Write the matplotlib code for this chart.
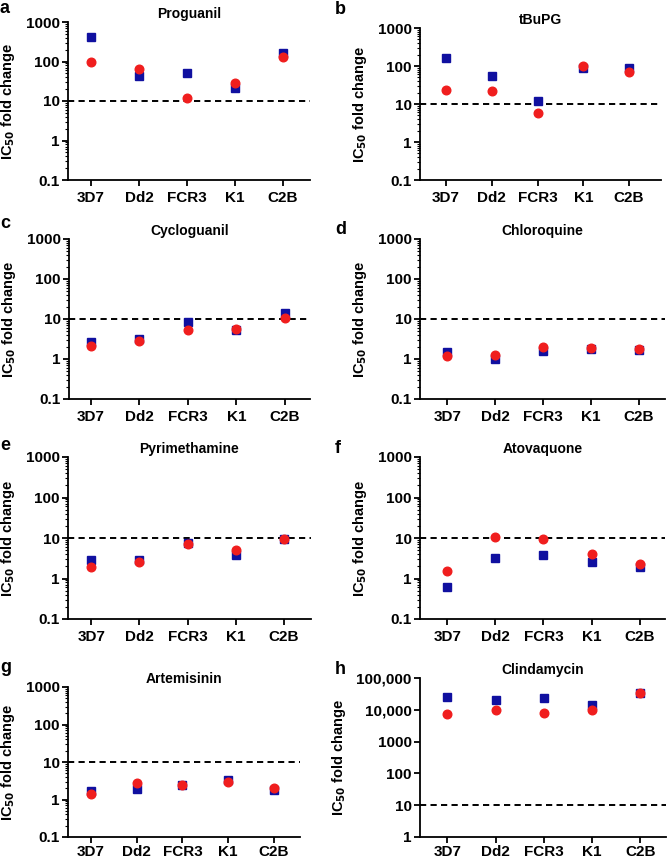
import matplotlib
matplotlib.use("Agg")
import matplotlib.pyplot as plt
from matplotlib.ticker import LogLocator, FixedLocator, FixedFormatter, NullFormatter

plt.rcParams['font.family'] = ['Liberation Sans', 'DejaVu Sans']
plt.rcParams['font.weight'] = 'bold'

strains = ["3D7", "Dd2", "FCR3", "K1", "C2B"]

letters = ["a", "b", "c", "d", "e", "f", "g", "h"]
drugs = ["Proguanil", "tBuPG", "Cycloguanil", "Chloroquine",
         "Pyrimethamine", "Atovaquone", "Artemisinin", "Clindamycin"]

# blue squares
sq_proguanil = [420, 43, 50, 21, 160]
sq_tbupg = [166, 56, 12, 87, 87]
sq_cycloguanil = [2.7, 3.2, 8.3, 5.3, 14]
sq_chloroquine = [1.52, 1.0, 1.6, 1.78, 1.72]
sq_pyrimethamine = [2.9, 2.8, 7.7, 3.7, 9.3]
sq_atovaquone = [0.62, 3.2, 3.8, 2.5, 1.9]
sq_artemisinin = [1.69, 1.95, 2.38, 3.3, 1.8]
sq_clindamycin = [24500, 20200, 23400, 13800, 32600]

# red circles
ci_proguanil = [96, 63, 12, 28, 133]
ci_tbupg = [23.5, 22.6, 5.7, 103, 71]
ci_cycloguanil = [2.15, 2.8, 5.2, 5.7, 10.6]
ci_chloroquine = [1.21, 1.23, 2.0, 1.92, 1.8]
ci_pyrimethamine = [1.94, 2.5, 7.0, 5.1, 9.3]
ci_atovaquone = [1.57, 10.7, 9.35, 4.06, 2.3]
ci_artemisinin = [1.44, 2.8, 2.38, 2.92, 2.07]
ci_clindamycin = [7450, 9900, 7800, 9900, 32600]

squares = [sq_proguanil, sq_tbupg, sq_cycloguanil, sq_chloroquine,
           sq_pyrimethamine, sq_atovaquone, sq_artemisinin, sq_clindamycin]
circles = [ci_proguanil, ci_tbupg, ci_cycloguanil, ci_chloroquine,
           ci_pyrimethamine, ci_atovaquone, ci_artemisinin, ci_clindamycin]

yticks_std = [0.1, 1, 10, 100, 1000]
ylabels_std = ["0.1", "1", "10", "100", "1000"]
yticks_h = [1, 10, 100, 1000, 10000, 100000]
ylabels_h = ["1", "10", "100", "1000", "10,000", "100,000"]
threshold = 10

W, H = 667, 861
# (left, right, top, bottom) in pixels
boxes = [(68, 310, 22, 180), (420, 661, 28, 180),
         (69, 310, 239, 399), (420, 665, 239, 399),
         (68, 311, 457, 619), (420, 665, 457, 619),
         (68, 300, 687, 837), (420, 666, 678, 837)]
xlims = [(-0.48, 4.56), (-0.57, 4.7), (-0.45, 4.52), (-0.57, 4.54),
         (-0.48, 4.56), (-0.57, 4.53), (-0.5, 4.57), (-0.57, 4.53)]
letter_pos = [(0, 0), (335, 1), (0, 215), (335, 221),
              (0, 437), (335, 440), (0, 659), (335, 661)]

fig = plt.figure(figsize=(W / 100, H / 100), dpi=100)

for i in range(8):
    l, r, t, b = boxes[i]
    ax = fig.add_axes([l / W, 1 - b / H, (r - l) / W, (b - t) / H])
    x = list(range(len(strains)))
    ax.plot(x, squares[i], linestyle='none', marker='s', markersize=5.6,
            color='#1010a0', zorder=3)
    ax.plot(x, circles[i], linestyle='none', marker='o', markersize=6.2,
            color='#f01e1e', zorder=4)
    ax.axhline(threshold, color='black', linestyle=(0, (3.2, 2.2)),
               linewidth=1.4, zorder=2)
    ax.set_yscale('log')
    if i == 7:
        ax.set_ylim(1, 100000)
        ax.yaxis.set_major_locator(FixedLocator(yticks_h))
        ax.yaxis.set_major_formatter(FixedFormatter(ylabels_h))
    else:
        ax.set_ylim(0.1, 1000)
        ax.yaxis.set_major_locator(FixedLocator(yticks_std))
        ax.yaxis.set_major_formatter(FixedFormatter(ylabels_std))
    ax.yaxis.set_minor_locator(LogLocator(base=10, subs=range(2, 10)))
    ax.yaxis.set_minor_formatter(NullFormatter())
    ax.set_xlim(*xlims[i])
    ax.set_xticks(x)
    ax.set_xticklabels(strains)
    for s in ['top', 'right']:
        ax.spines[s].set_visible(False)
    for s in ['left', 'bottom']:
        ax.spines[s].set_linewidth(1.3)
    ax.tick_params(axis='both', which='major', direction='out', length=4,
                   width=1.3, labelsize=11, pad=2)
    ax.tick_params(axis='y', which='minor', direction='out', length=2,
                   width=0.8)
    ax.tick_params(axis='x', which='major', pad=4 if i < 6 else 2)
    for lab in ax.get_xticklabels() + ax.get_yticklabels():
        lab.set_fontweight('bold')
    ax.set_title(drugs[i], fontsize=10, fontweight='bold', pad=3)
    ax.set_ylabel(r"IC$_{\mathbf{50}}$ fold change", fontsize=10.5,
                  fontweight='bold', labelpad=6)
    lx, ly = letter_pos[i]
    fig.text(lx / W, 1 - ly / H, letters[i], fontsize=13, fontweight='bold',
             va='top', ha='left')

fig.savefig("out.png", dpi=100)
